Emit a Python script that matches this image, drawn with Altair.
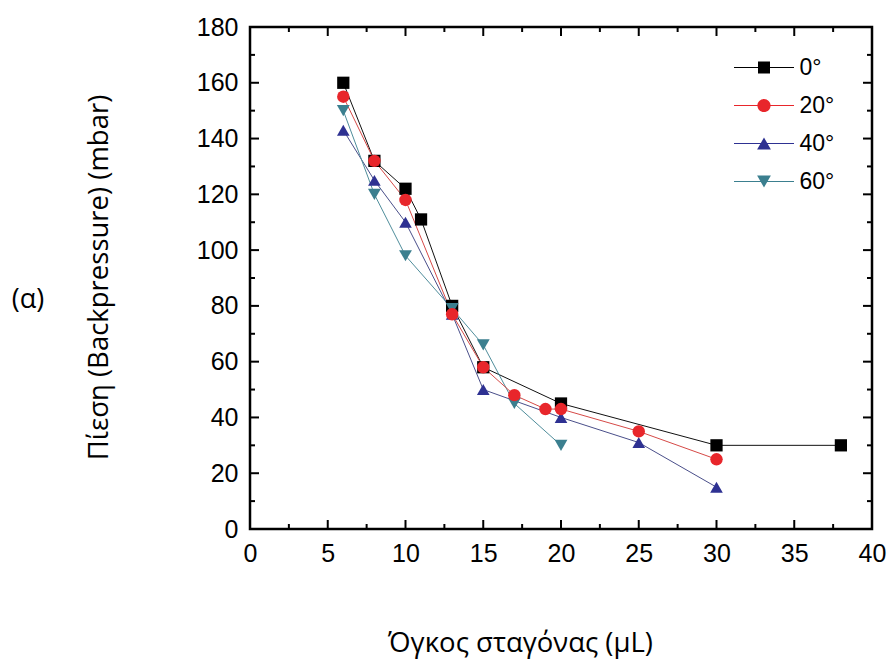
import altair as alt
import pandas as pd

# ---------------- data ----------------
series_names = ["0°", "20°", "40°", "60°"]
draw_order = ["0°", "40°", "60°", "20°"]

x_0 = [6, 8, 10, 11, 13, 15, 20, 30, 38]
y_0 = [160, 132, 122, 111, 80, 58, 45, 30, 30]
x_20 = [6, 8, 10, 13, 15, 17, 19, 20, 25, 30]
y_20 = [155, 132, 118, 77, 58, 48, 43, 43, 35, 25]
x_40 = [6, 8, 10, 13, 15, 20, 25, 30]
y_40 = [143, 125, 110, 77, 50, 40, 31, 15]
x_60 = [6, 8, 10, 13, 15, 17, 20]
y_60 = [150, 120, 98, 79, 66, 45, 30]

x_ticks = [0, 5, 10, 15, 20, 25, 30, 35, 40]
x_minor = [2.5, 7.5, 12.5, 17.5, 22.5, 27.5, 32.5, 37.5]
y_ticks = [0, 20, 40, 60, 80, 100, 120, 140, 160, 180]
y_minor = [10, 30, 50, 70, 90, 110, 130, 150, 170]

panel_label = "(α)"
x_title = "Όγκος σταγόνας (μL)"
y_title = "Πίεση (Backpressure) (mbar)"

marker_colors = ["#000000", "#e8262b", "#2e3192", "#3b7f8f"]
line_colors = ["#111111", "#d64a47", "#4a4f8a", "#4f8d9b"]
marker_shapes = ["square", "circle", "triangle-up", "triangle-down"]
marker_sizes = [150, 165, 215, 215]
line_rect = "M-5,-0.1H5V0.1H-5Z"
legend_shapes = [
    line_rect + "M-1,-1H1V1H-1Z",
    line_rect + "M-1.1,0A1.1,1.1,0,1,1,1.1,0A1.1,1.1,0,1,1,-1.1,0Z",
    line_rect + "M0,-1L1.15,1H-1.15Z",
    line_rect + "M0,1L-1.15,-1H1.15Z",
]

series_data = {"0°": (x_0, y_0), "20°": (x_20, y_20), "40°": (x_40, y_40), "60°": (x_60, y_60)}
rows = []
for s in draw_order:
    xs_, ys_ = series_data[s]
    for xv, yv in zip(xs_, ys_):
        rows.append({"series": s, "x": xv, "y": yv})
df = pd.DataFrame(rows)

W, H = 622, 502
TICK_FONT = "Liberation Sans"
TITLE_FONT = "Open Sans"
MAJOR, MINOR = 9, 5

xs = alt.Scale(domain=[0, 40], nice=False)
ys = alt.Scale(domain=[0, 180], nice=False)

ax_bottom = alt.Axis(
    values=x_ticks, ticks=False, tickSize=0, domain=False, grid=False, labelFlush=False,
    labelFont=TICK_FONT, labelFontSize=25, labelColor="black", labelPadding=12,
    title=x_title, titleFont=TITLE_FONT, titleFontSize=27.5, titleFontWeight="normal",
    titleColor="black", titleX=270, titleY=114, titleBaseline="middle", titleAlign="center",
)
ax_left = alt.Axis(
    values=y_ticks, ticks=False, tickSize=0, domain=False, grid=False, labelFlush=False,
    labelFont=TICK_FONT, labelFontSize=25, labelColor="black", labelPadding=12,
    title=y_title, titleFont=TITLE_FONT, titleFontSize=27.5, titleFontWeight="normal",
    titleColor="black", titleAngle=270, titleX=-151, titleY=250,
    titleBaseline="middle", titleAlign="center",
)

base = alt.Chart(df)

lines = base.mark_line(strokeWidth=1).encode(
    x=alt.X("x:Q", scale=xs, axis=ax_bottom),
    y=alt.Y("y:Q", scale=ys, axis=ax_left),
    color=alt.Color("series:N", scale=alt.Scale(domain=series_names, range=line_colors), legend=None),
)

points = base.mark_point(filled=True, opacity=1).encode(
    x=alt.X("x:Q", scale=xs, axis=None),
    y=alt.Y("y:Q", scale=ys, axis=None),
    color=alt.Color("series:N", scale=alt.Scale(domain=series_names, range=marker_colors), legend=None),
    shape=alt.Shape("series:N", scale=alt.Scale(domain=series_names, range=marker_shapes), legend=None),
    size=alt.Size("series:N", scale=alt.Scale(domain=series_names, range=marker_sizes), legend=None),
)

leg = alt.Legend(
    title=None, orient="none", legendX=502.5, legendY=29, padding=0, rowPadding=14,
    symbolSize=144, symbolOpacity=1, symbolStrokeWidth=0, labelFont=TICK_FONT,
    labelFontSize=23, labelColor="black", labelOffset=24, labelBaseline="middle",
)

legend_layer = base.mark_point(filled=True, opacity=0).encode(
    x=alt.X("x:Q", scale=xs, axis=None),
    y=alt.Y("y:Q", scale=ys, axis=None),
    color=alt.Color("series:N", scale=alt.Scale(domain=series_names, range=marker_colors), legend=leg),
    shape=alt.Shape("series:N", scale=alt.Scale(domain=series_names, range=legend_shapes), legend=leg),
)


def x_rules(values, y_from, y_to):
    return alt.Chart(pd.DataFrame({"v": values})).mark_rule(color="black", strokeWidth=2).encode(
        x=alt.X("v:Q", scale=xs, axis=None), y=alt.value(y_from), y2=alt.value(y_to)
    )


def y_rules(values, x_from, x_to):
    return alt.Chart(pd.DataFrame({"v": values})).mark_rule(color="black", strokeWidth=2).encode(
        y=alt.Y("v:Q", scale=ys, axis=None), x=alt.value(x_from), x2=alt.value(x_to)
    )


tick_layers = [
    x_rules(x_ticks, H, H - MAJOR), x_rules(x_minor, H, H - MINOR),
    x_rules(x_ticks, 0, MAJOR), x_rules(x_minor, 0, MINOR),
    y_rules(y_ticks, 0, MAJOR), y_rules(y_minor, 0, MINOR),
    y_rules(y_ticks, W, W - MAJOR), y_rules(y_minor, W, W - MINOR),
]

panel = alt.Chart(pd.DataFrame({"t": [panel_label]})).mark_text(
    font=TITLE_FONT, fontSize=27, align="center", baseline="middle", color="black"
).encode(x=alt.value(-222), y=alt.value(273), text="t:N")

chart = alt.layer(lines, *tick_layers, points, legend_layer, panel).resolve_scale(
    color="independent", shape="independent", size="independent"
).resolve_axis(x="independent", y="independent").properties(
    width=W, height=H,
    autosize=alt.AutoSizeParams(type="none"),
    padding={"left": 250, "top": 27, "right": 19, "bottom": 132},
    background="white",
).configure_view(stroke="black", strokeWidth=2.5)

chart.save("out.html", embed_options={"renderer": "svg", "actions": False})
